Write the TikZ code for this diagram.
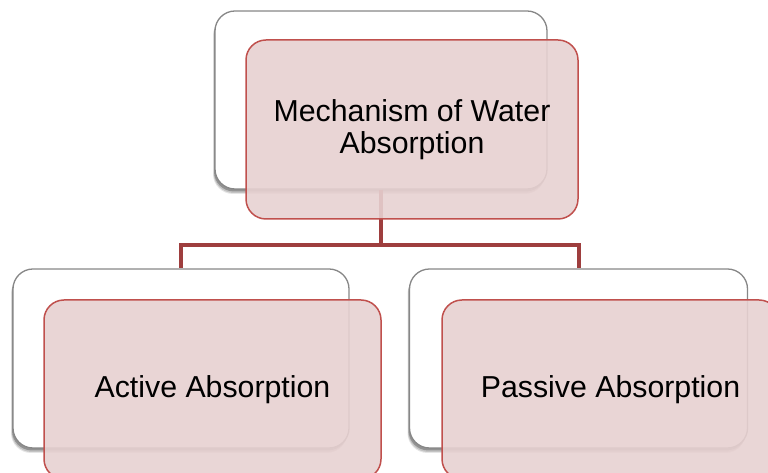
\documentclass[tikz,border=0pt]{standalone}
\usepackage{fontspec}
\setmainfont{Liberation Sans}
\usetikzlibrary{shadows}
\definecolor{boxborder}{RGB}{135,135,135}
\definecolor{redborder}{RGB}{192,80,77}
\definecolor{redfill}{RGB}{231,209,209}
\definecolor{linkred}{RGB}{158,62,62}
\tikzset{
  backbox/.style={draw=boxborder, line width=1.3pt, fill=white, rounded corners=20pt,
    minimum width=336pt, minimum height=179pt, inner sep=0pt,
    drop shadow={shadow xshift=-2pt, shadow yshift=-5pt, opacity=0.10, fill=black},
    drop shadow={shadow xshift=-1.5pt, shadow yshift=-4pt, opacity=0.15, fill=black},
    drop shadow={shadow xshift=-1pt, shadow yshift=-2.5pt, opacity=0.25, fill=black}},
  frontbox/.style={draw=redborder, line width=1.5pt, fill=redfill, fill opacity=0.9, text opacity=1,
    rounded corners=20pt, minimum width=336pt, minimum height=179pt, inner sep=0pt,
    align=center, font=\fontsize{30.3}{32}\selectfont},
  link/.style={draw=linkred, line width=4pt}
}
\begin{document}
\begin{tikzpicture}[x=1pt,y=1pt]
\useasboundingbox (0,0) rectangle (768,473);
% back boxes
\node[backbox, minimum width=332pt, minimum height=178pt] (topW) at (381,373) {};
\node[backbox] (leftW) at (181,114.5) {};
\node[backbox, minimum width=338pt] (rightW) at (578.5,114.5) {};
% connectors
\coordinate (bus) at (381,228);
\draw[link] (topW.south) -- (bus) -| (leftW.north);
\draw[link] (bus) -| (rightW.north);
% front boxes
\node[frontbox, minimum width=332pt] (topR) at (412,343.5) {Mechanism of Water\\Absorption};
\node[frontbox, minimum width=337pt] (leftR) at (212.5,83.5) {Active Absorption};
\node[frontbox, minimum width=337pt] (rightR) at (610.5,83.5) {Passive Absorption};
\end{tikzpicture}
\end{document}
